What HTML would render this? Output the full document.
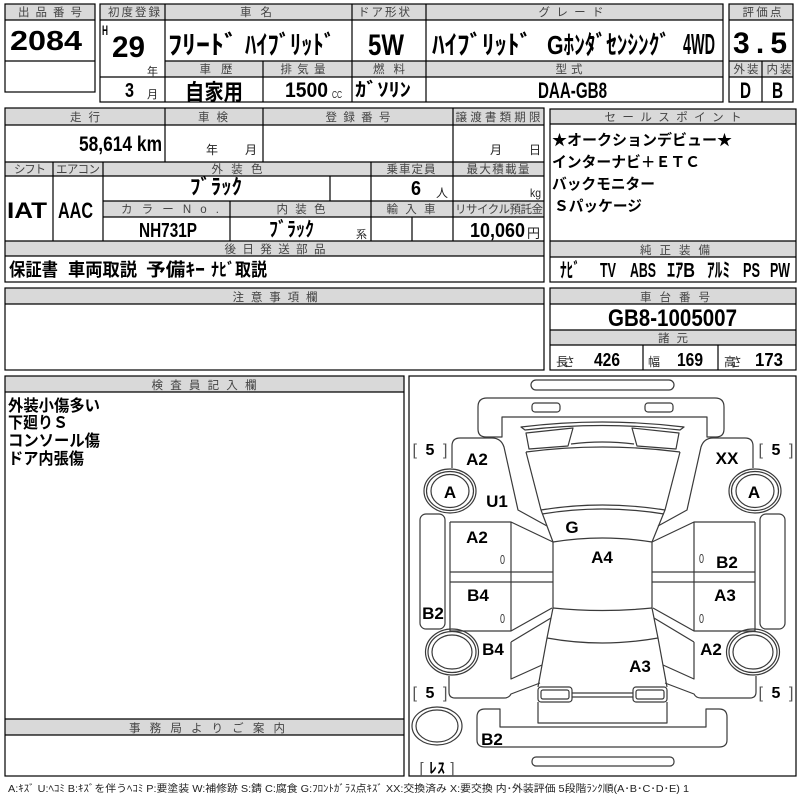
<!DOCTYPE html>
<html><head><meta charset="utf-8"><style>
html,body{margin:0;padding:0;background:#fff;}
svg{display:block;}
.h{font-family:"Liberation Sans","Noto Sans CJK JP",sans-serif;font-size:11.5px;fill:#444;text-anchor:middle;}
.v{font-family:"Liberation Sans","Noto Sans CJK JP",sans-serif;font-weight:bold;fill:#000;}
.s{font-family:"Liberation Sans","Noto Sans CJK JP",sans-serif;fill:#222;}
.l{font-family:"Liberation Sans","Noto Sans CJK JP",sans-serif;font-weight:bold;font-size:17px;fill:#000;text-anchor:middle;}
.z{font-family:"Liberation Sans",sans-serif;font-size:13px;fill:#333;}
</style></head><body>
<svg width="800" height="800" viewBox="0 0 800 800" xmlns="http://www.w3.org/2000/svg">
<rect width="800" height="800" fill="#fff"/>

<!-- gray bands -->
<g fill="#d9d9d9">
<rect x="5" y="4" width="90" height="16"/>
<rect x="100" y="4" width="623" height="16"/>
<rect x="165" y="61" width="558" height="16"/>
<rect x="729" y="4" width="64" height="16"/>
<rect x="729" y="61" width="64" height="16"/>
<rect x="5" y="108" width="539" height="17"/>
<rect x="5" y="162" width="539" height="14"/>
<rect x="103" y="201" width="441" height="16"/>
<rect x="5" y="241" width="539" height="15"/>
<rect x="550" y="109" width="246" height="15"/>
<rect x="550" y="241" width="246" height="16"/>
<rect x="550" y="288" width="246" height="16"/>
<rect x="550" y="330" width="246" height="15"/>
<rect x="5" y="288" width="539" height="16"/>
<rect x="5" y="376" width="399" height="16"/>
<rect x="5" y="719" width="399" height="16"/>
</g>

<!-- table borders -->
<g fill="none" stroke="#000" stroke-width="1.2">
<rect x="5" y="4" width="90" height="88"/>
<path d="M5 20H95M5 61H95"/>
<rect x="100" y="4" width="623" height="98"/>
<path d="M100 20H723M165 61H723M100 77H723M165 4V102M352 4V102M426 4V102M263 61V102"/>
<rect x="729" y="4" width="64" height="98"/>
<path d="M729 20H793M729 61H793M729 77H793M762 61V102"/>

<rect x="5" y="108" width="539" height="174"/>
<path d="M5 125H544M5 162H544M5 176H544M103 201H544M103 217H544M5 241H544M5 256H544"/>
<path d="M165 108V162M263 108V162M453 108V241M53 162V241M103 162V241M371 162V241M330 176V201M230 201V241M412 217V241"/>

<rect x="550" y="109" width="246" height="173"/>
<path d="M550 124H796M550 241H796M550 257H796"/>
<rect x="550" y="288" width="246" height="82"/>
<path d="M550 304H796M550 330H796M550 345H796M643 345V370M718 345V370"/>

<rect x="5" y="288" width="539" height="82"/>
<path d="M5 304H544"/>
<rect x="5" y="376" width="399" height="400"/>
<path d="M5 392H404M5 719H404M5 735H404"/>
<rect x="409" y="376" width="387" height="400"/>
</g>

<!-- header texts -->
<text class="h" x="50" y="16" textLength="64">出品番号</text>
<text class="h" x="134" y="16" textLength="52">初度登録</text>
<text class="h" x="256" y="16" textLength="32">車名</text>
<text class="h" x="384" y="16" textLength="52">ドア形状</text>
<text class="h" x="571" y="16" textLength="65">グレード</text>
<text class="h" x="762" y="16" textLength="39">評価点</text>
<text class="h" x="216" y="73" textLength="33">車歴</text>
<text class="h" x="303" y="73" textLength="45">排気量</text>
<text class="h" x="389" y="73" textLength="32">燃料</text>
<text class="h" x="569" y="73" textLength="27">型式</text>
<text class="h" x="746" y="73" textLength="25">外装</text>
<text class="h" x="779" y="73" textLength="25">内装</text>

<text class="h" x="85" y="121" textLength="30">走行</text>
<text class="h" x="213" y="121" textLength="30">車検</text>
<text class="h" x="358" y="121" textLength="65">登録番号</text>
<text class="h" x="498" y="121" textLength="85">譲渡書類期限</text>
<text class="h" x="30" y="173" textLength="32">シフト</text>
<text class="h" x="78" y="173" textLength="44">エアコン</text>
<text class="h" x="237" y="173" textLength="51">外装色</text>
<text class="h" x="411" y="173" textLength="49">乗車定員</text>
<text class="h" x="498" y="173" textLength="63">最大積載量</text>
<text class="h" x="170" y="213" textLength="98">カラーNo.</text>
<text class="h" x="301" y="213" textLength="49">内装色</text>
<text class="h" x="411" y="213" textLength="49">輸入車</text>
<text class="h" x="499" y="213" textLength="88">リサイクル預託金</text>
<text class="h" x="275" y="253" textLength="101">後日発送部品</text>

<text class="h" x="673" y="121" textLength="137">セールスポイント</text>
<text class="h" x="675" y="254" textLength="70">純正装備</text>
<text class="h" x="675" y="301" textLength="70">車台番号</text>
<text class="h" x="673" y="342" textLength="30">諸元</text>
<text class="h" x="275" y="301" textLength="85">注意事項欄</text>
<text class="h" x="204" y="389" textLength="105">検査員記入欄</text>
<text class="h" x="207" y="732" textLength="156">事務局よりご案内</text>

<!-- top values -->
<text class="v" x="10" y="50" font-size="28" textLength="72" lengthAdjust="spacingAndGlyphs">2084</text>
<text class="v" x="102" y="35" font-size="14" textLength="6" lengthAdjust="spacingAndGlyphs">H</text>
<text class="v" x="112" y="57" font-size="30" textLength="33" lengthAdjust="spacingAndGlyphs">29</text>
<text class="s" x="147" y="75" font-size="11">年</text>
<text class="v" x="125" y="97" font-size="20" textLength="9" lengthAdjust="spacingAndGlyphs">3</text>
<text class="s" x="147" y="98" font-size="11">月</text>
<text class="v" x="168" y="54" font-size="26" textLength="70" lengthAdjust="spacingAndGlyphs">ﾌﾘｰﾄﾞ</text>
<text class="v" x="245" y="54" font-size="26" textLength="90" lengthAdjust="spacingAndGlyphs">ﾊｲﾌﾞﾘｯﾄﾞ</text>
<text class="v" x="368" y="55" font-size="30" textLength="36" lengthAdjust="spacingAndGlyphs">5W</text>
<text class="v" x="432" y="54" font-size="26" textLength="100" lengthAdjust="spacingAndGlyphs">ﾊｲﾌﾞﾘｯﾄﾞ</text>
<text class="v" x="547" y="54" font-size="26" textLength="123" lengthAdjust="spacingAndGlyphs">Gﾎﾝﾀﾞｾﾝｼﾝｸﾞ</text>
<text class="v" x="683" y="54" font-size="29" textLength="32" lengthAdjust="spacingAndGlyphs">4WD</text>
<text class="v" x="185" y="100" font-size="22" textLength="58" lengthAdjust="spacingAndGlyphs">自家用</text>
<text class="v" x="285" y="97" font-size="21" textLength="43" lengthAdjust="spacingAndGlyphs">1500</text>
<text class="s" x="332" y="98" font-size="10" textLength="10" lengthAdjust="spacingAndGlyphs">CC</text>
<text class="v" x="355" y="96" font-size="19" textLength="56" lengthAdjust="spacingAndGlyphs">ｶﾞｿﾘﾝ</text>
<text class="v" x="538" y="98" font-size="22" textLength="69" lengthAdjust="spacingAndGlyphs">DAA-GB8</text>
<text class="v" x="733" y="53" font-size="30" textLength="54">3.5</text>
<text class="v" x="740" y="98" font-size="22" textLength="11" lengthAdjust="spacingAndGlyphs">D</text>
<text class="v" x="772" y="98" font-size="22" textLength="11" lengthAdjust="spacingAndGlyphs">B</text>

<!-- block 2 values -->
<text class="v" x="79" y="151" font-size="21" textLength="83" lengthAdjust="spacingAndGlyphs">58,614 km</text>
<text class="s" x="206" y="154" font-size="12">年</text>
<text class="s" x="245" y="154" font-size="12">月</text>
<text class="s" x="490" y="154" font-size="12">月</text>
<text class="s" x="529" y="154" font-size="12">日</text>
<text class="v" x="7" y="218" font-size="22" textLength="40" lengthAdjust="spacingAndGlyphs">IAT</text>
<text class="v" x="58" y="218" font-size="22" textLength="35" lengthAdjust="spacingAndGlyphs">AAC</text>
<text class="v" x="190" y="194" font-size="21" textLength="52" lengthAdjust="spacingAndGlyphs">ﾌﾞﾗｯｸ</text>
<text class="v" x="411" y="195" font-size="20" textLength="10" lengthAdjust="spacingAndGlyphs">6</text>
<text class="s" x="436" y="197" font-size="12">人</text>
<text class="s" x="530" y="197" font-size="12" textLength="11" lengthAdjust="spacingAndGlyphs">kg</text>
<text class="v" x="139" y="237" font-size="20" textLength="58" lengthAdjust="spacingAndGlyphs">NH731P</text>
<text class="v" x="269" y="236" font-size="20" textLength="45" lengthAdjust="spacingAndGlyphs">ﾌﾞﾗｯｸ</text>
<text class="s" x="356" y="238" font-size="11">系</text>
<text class="v" x="470" y="237" font-size="20" textLength="55" lengthAdjust="spacingAndGlyphs">10,060</text>
<text class="s" x="527" y="238" font-size="13">円</text>
<text class="v" x="9" y="276" font-size="18" textLength="49" lengthAdjust="spacingAndGlyphs">保証書</text>
<text class="v" x="68" y="276" font-size="18" textLength="69" lengthAdjust="spacingAndGlyphs">車両取説</text>
<text class="v" x="146" y="276" font-size="18" textLength="59" lengthAdjust="spacingAndGlyphs">予備ｷｰ</text>
<text class="v" x="211" y="276" font-size="18" textLength="56" lengthAdjust="spacingAndGlyphs">ﾅﾋﾞ取説</text>

<!-- sales points -->
<text class="v" x="552" y="145" font-size="15" textLength="180" lengthAdjust="spacingAndGlyphs">★オークションデビュー★</text>
<text class="v" x="552" y="167" font-size="15" textLength="148" lengthAdjust="spacingAndGlyphs">インターナビ＋ＥＴＣ</text>
<text class="v" x="552" y="189" font-size="15" textLength="103" lengthAdjust="spacingAndGlyphs">バックモニター</text>
<text class="v" x="554" y="211" font-size="15" textLength="88" lengthAdjust="spacingAndGlyphs">Ｓパッケージ</text>

<text class="v" x="560" y="277" font-size="20" textLength="20" lengthAdjust="spacingAndGlyphs">ﾅﾋﾞ</text>
<text class="v" x="600" y="277" font-size="20" textLength="16" lengthAdjust="spacingAndGlyphs">TV</text>
<text class="v" x="630" y="277" font-size="20" textLength="26" lengthAdjust="spacingAndGlyphs">ABS</text>
<text class="v" x="667" y="277" font-size="20" textLength="28" lengthAdjust="spacingAndGlyphs">ｴｱB</text>
<text class="v" x="707" y="277" font-size="20" textLength="23" lengthAdjust="spacingAndGlyphs">ｱﾙﾐ</text>
<text class="v" x="743" y="277" font-size="20" textLength="17" lengthAdjust="spacingAndGlyphs">PS</text>
<text class="v" x="770" y="277" font-size="20" textLength="20" lengthAdjust="spacingAndGlyphs">PW</text>

<text class="v" x="608" y="326" font-size="24" textLength="129" lengthAdjust="spacingAndGlyphs">GB8-1005007</text>
<text class="s" x="556" y="366" font-size="12" textLength="19">長さ</text>
<text class="v" x="594" y="366" font-size="18" textLength="26" lengthAdjust="spacingAndGlyphs">426</text>
<text class="s" x="648" y="366" font-size="12">幅</text>
<text class="v" x="677" y="366" font-size="18" textLength="26" lengthAdjust="spacingAndGlyphs">169</text>
<text class="s" x="724" y="366" font-size="12" textLength="18">高さ</text>
<text class="v" x="755" y="366" font-size="18" textLength="28" lengthAdjust="spacingAndGlyphs">173</text>

<!-- inspector text -->
<text class="v" x="8" y="411" font-size="16" textLength="92" lengthAdjust="spacingAndGlyphs">外装小傷多い</text>
<text class="v" x="8" y="428" font-size="16" textLength="60" lengthAdjust="spacingAndGlyphs">下廻りＳ</text>
<text class="v" x="8" y="446" font-size="16" textLength="92" lengthAdjust="spacingAndGlyphs">コンソール傷</text>
<text class="v" x="8" y="464" font-size="16" textLength="76" lengthAdjust="spacingAndGlyphs">ドア内張傷</text>

<!-- car diagram -->
<g fill="none" stroke="#3a3a3a" stroke-width="1.2" stroke-linejoin="round">
<rect x="531" y="380" width="143" height="10" rx="5"/>
<path d="M502 437 L486 437 Q478 437 478 429 L478 407 Q478 398 487 398 L715 398 Q724 398 724 407 L724 429 Q724 437 716 437 L707 437 L707 417 L502 417 Z"/>
<rect x="532" y="403" width="28" height="9" rx="3"/>
<rect x="645" y="403" width="28" height="9" rx="3"/>
<path d="M521 427 Q602 417 684 427 L680 430 Q602 421 525 430 Z"/>
<path d="M526 433 L573 428 L568 446 L529 449 Z"/>
<path d="M679 433 L632 428 L637 446 L676 449 Z"/>
<path d="M571 444 Q602 440 634 444"/>
<path d="M526 452 Q602 442 680 452"/>
<path d="M526 452 L541 510 L553 542"/>
<path d="M680 452 L665 510 L652 542"/>
<path d="M541 510 Q602 500 665 510"/>
<path d="M542 514 Q602 504 664 514"/>
<path d="M553 542 Q602 534 652 542"/>
<path d="M553 542 L553 608 M652 542 L652 608"/>
<path d="M553 608 Q602 613 652 608"/>
<path d="M553 608 L547 638 L538 687 M652 608 L658 638 L667 687"/>
<path d="M547 638 Q602 648 658 638"/>
<rect x="538" y="687" width="34" height="15" rx="3"/>
<rect x="541" y="690" width="28" height="9" rx="2"/>
<rect x="633" y="687" width="34" height="15" rx="3"/>
<rect x="636" y="690" width="28" height="9" rx="2"/>
<path d="M572 693 L633 693 M572 697 L633 697"/>
<path d="M538 702 L538 723 L667 723 L667 702"/>
<path d="M500 709 L485 709 Q477 709 477 717 L477 740 Q477 747 485 747 L719 747 Q727 747 727 740 L727 717 Q727 709 719 709 L706 709 L706 727 L500 727 Z"/>
<rect x="532" y="757" width="142" height="9" rx="4"/>
<ellipse cx="437" cy="726" rx="25" ry="19"/>
<ellipse cx="437" cy="726" rx="21" ry="16"/>

<g id="half">
<ellipse cx="450" cy="491" rx="26" ry="22"/>
<ellipse cx="450" cy="491" rx="23.5" ry="19.5"/>
<ellipse cx="450" cy="491" rx="19" ry="16.5"/>
<ellipse cx="452" cy="652" rx="26.5" ry="23"/>
<ellipse cx="452" cy="652" rx="24" ry="20.5"/>
<ellipse cx="452" cy="652" rx="20" ry="17"/>
<rect x="420" y="514" width="25" height="115" rx="6"/>
<path d="M452 468 L452 446 Q452 438 460 438 L492 438 Q501 438 504 447 L518 510 L547 526"/>
<path d="M450 522 L450 631 M450 522 L511 522 L553 542 M511 522 L511 631 M450 572 L553 572 M450 582 L553 582 M450 631 L511 631 L552 608"/>
<path d="M511 642 L551 618 M511 642 L511 679 L542 665"/>
<path d="M449 676 L449 692 Q449 698 455 698 L504 698 Q509 698 511 694 L540 683"/>
</g>
<use href="#half" transform="translate(1205,0) scale(-1,1)"/>
</g>

<!-- car labels -->
<text x="430" y="455" font-size="16" text-anchor="middle" class="s" textLength="35"><tspan fill="#555">[ </tspan><tspan font-weight="bold" fill="#000">5</tspan><tspan fill="#555"> ]</tspan></text>
<text x="776" y="455" font-size="16" text-anchor="middle" class="s" textLength="35"><tspan fill="#555">[ </tspan><tspan font-weight="bold" fill="#000">5</tspan><tspan fill="#555"> ]</tspan></text>
<text x="430" y="698" font-size="16" text-anchor="middle" class="s" textLength="35"><tspan fill="#555">[ </tspan><tspan font-weight="bold" fill="#000">5</tspan><tspan fill="#555"> ]</tspan></text>
<text x="776" y="698" font-size="16" text-anchor="middle" class="s" textLength="35"><tspan fill="#555">[ </tspan><tspan font-weight="bold" fill="#000">5</tspan><tspan fill="#555"> ]</tspan></text>
<text x="437" y="773" font-size="15" text-anchor="middle" class="s" textLength="35"><tspan fill="#555">[ </tspan><tspan font-weight="bold" fill="#000">ﾚｽ</tspan><tspan fill="#555"> ]</tspan></text>

<text class="l" x="477" y="465">A2</text>
<text class="l" x="450" y="498">A</text>
<text class="l" x="497" y="507">U1</text>
<text class="l" x="572" y="533">G</text>
<text class="l" x="602" y="563">A4</text>
<text class="l" x="477" y="543">A2</text>
<text class="z" x="500" y="564" textLength="5" lengthAdjust="spacingAndGlyphs">0</text>
<text class="l" x="478" y="601">B4</text>
<text class="z" x="500" y="623" textLength="5" lengthAdjust="spacingAndGlyphs">0</text>
<text class="l" x="433" y="619">B2</text>
<text class="l" x="493" y="655">B4</text>
<text class="l" x="492" y="745">B2</text>
<text class="l" x="727" y="464">XX</text>
<text class="l" x="754" y="498">A</text>
<text class="z" x="699" y="563" textLength="5" lengthAdjust="spacingAndGlyphs">0</text>
<text class="l" x="727" y="568">B2</text>
<text class="l" x="725" y="601">A3</text>
<text class="z" x="699" y="623" textLength="5" lengthAdjust="spacingAndGlyphs">0</text>
<text class="l" x="711" y="655">A2</text>
<text class="l" x="640" y="672">A3</text>

<!-- legend -->
<text class="s" x="8" y="792" font-size="10" fill="#333" textLength="681" lengthAdjust="spacingAndGlyphs">A:ｷｽﾞ U:ﾍｺﾐ B:ｷｽﾞを伴うﾍｺﾐ P:要塗装 W:補修跡 S:錆 C:腐食 G:ﾌﾛﾝﾄｶﾞﾗｽ点ｷｽﾞ XX:交換済み X:要交換 内･外装評価 5段階ﾗﾝｸ順(A･B･C･D･E) 1</text>
</svg>
</body></html>
